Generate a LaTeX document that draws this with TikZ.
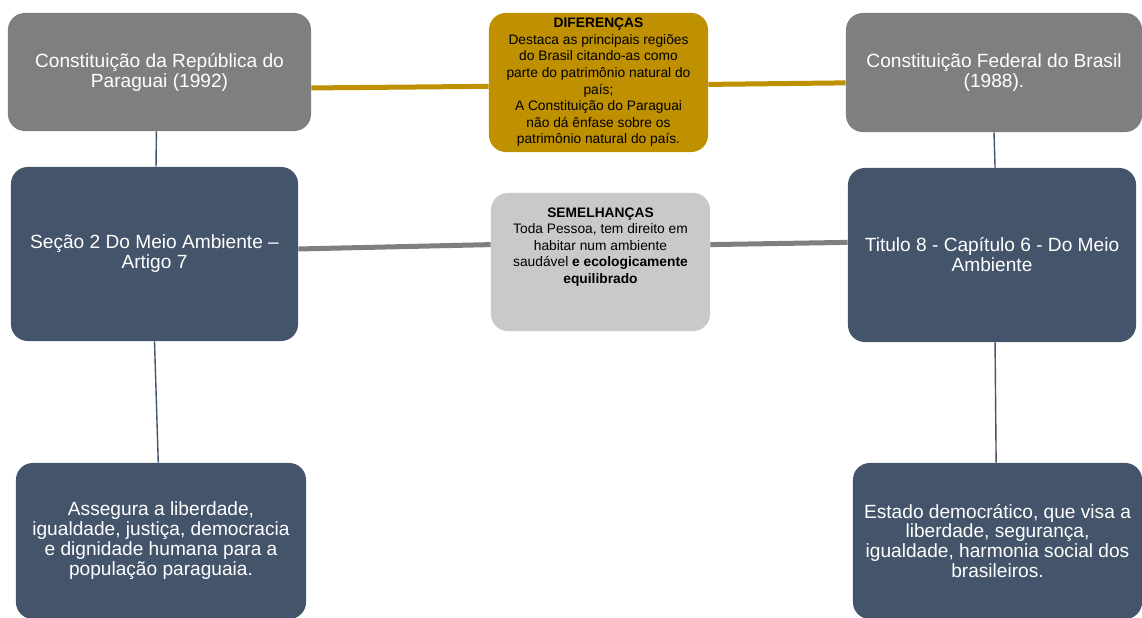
\documentclass[tikz,border=0pt]{standalone}
\usepackage{fontspec}
\setmainfont{Liberation Sans}
\usetikzlibrary{positioning}
\definecolor{boxgray}{HTML}{7F7F7F}
\definecolor{boxslate}{HTML}{44546A}
\definecolor{boxgold}{HTML}{BF9000}
\definecolor{boxlight}{HTML}{C9C9C9}
\newcommand{\bigtext}{\fontsize{13.6}{14.2}\selectfont}
\newcommand{\smalltext}{\fontsize{9.8}{11.8}\selectfont}

\begin{document}
\begin{tikzpicture}[x=0.025cm, y=-0.025cm,
    card/.style={rounded corners=0.42cm, inner sep=0pt, align=center, text=white, font=\bigtext},
    note/.style={card, text=black, font=\smalltext},
    goldlink/.style={line width=0.125cm, color=boxgold},
    graylink/.style={line width=0.125cm, color=boxgray},
    thinlink/.style={line width=0.035cm, color=boxslate}]
            \useasboundingbox (0,0) rectangle (1142,617);
            % left column
            \node[card, fill=boxgray, minimum width=7.575cm, minimum height=2.95cm] (parag) at (159.5,72) {Constituição da República do\\Paraguai (1992)};
            \node[card, fill=boxslate, minimum width=7.175cm, minimum height=4.35cm] (secao) at (154.5,254) {Seção 2 Do Meio Ambiente --\\Artigo 7};
            \node[card, fill=boxslate, minimum width=7.25cm, minimum height=3.9cm] (assegura) at (161,541) {Assegura a liberdade,\\igualdade, justiça, democracia\\e dignidade humana para a\\população paraguaia.};
            % middle column
            \node[note, fill=boxgold, minimum width=5.475cm, minimum height=3.475cm] (dif) at (598.5,82.5) {\textbf{DIFERENÇAS}\\Destaca as principais regiões\\do Brasil citando-as como\\parte do patrimônio natural do\\país;\\A Constituição do Paraguai\\não dá ênfase sobre os\\patrimônio natural do país.};
            \node[note, fill=boxlight, inner ysep=0.36cm, minimum width=5.475cm, minimum height=3.45cm] (sem) at (600.5,262) {\parbox[c][2.73cm][t]{5.475cm}{\centering\textbf{SEMELHANÇAS}\\Toda Pessoa, tem direito em\\habitar num ambiente\\saudável \textbf{e ecologicamente}\\\textbf{equilibrado}}};
            % right column
            \node[card, fill=boxgray, minimum width=7.4cm, minimum height=2.975cm] (brasil) at (994,72.5) {Constituição Federal do Brasil\\(1988).};
            \node[card, fill=boxslate, minimum width=7.2cm, minimum height=4.35cm] (titulo) at (992,255) {Titulo 8 - Capítulo 6 - Do Meio\\Ambiente};
            \node[card, fill=boxslate, minimum width=7.225cm, minimum height=3.9cm] (estado) at (997.5,541) {Estado democrático, que visa a\\liberdade, segurança,\\igualdade, harmonia social dos\\brasileiros.};
            \draw[goldlink] (parag.-6.8) -- (dif.182.2);
            \draw[goldlink] (dif.-1.8) -- (brasil.184.8);
            \draw[graylink] (secao.2.4) -- (sem.171.7);
            \draw[graylink] (sem.9.3) -- (titulo.175.2);
            \draw[thinlink] (parag.-93.4) -- (secao.89);
            \draw[thinlink] (secao.south) -- (assegura.92.2);
            \draw[thinlink] (brasil.south) -- (titulo.88);
            \draw[thinlink] (titulo.-88.7) -- (estado.91.1);
        \end{tikzpicture}
\end{document}
